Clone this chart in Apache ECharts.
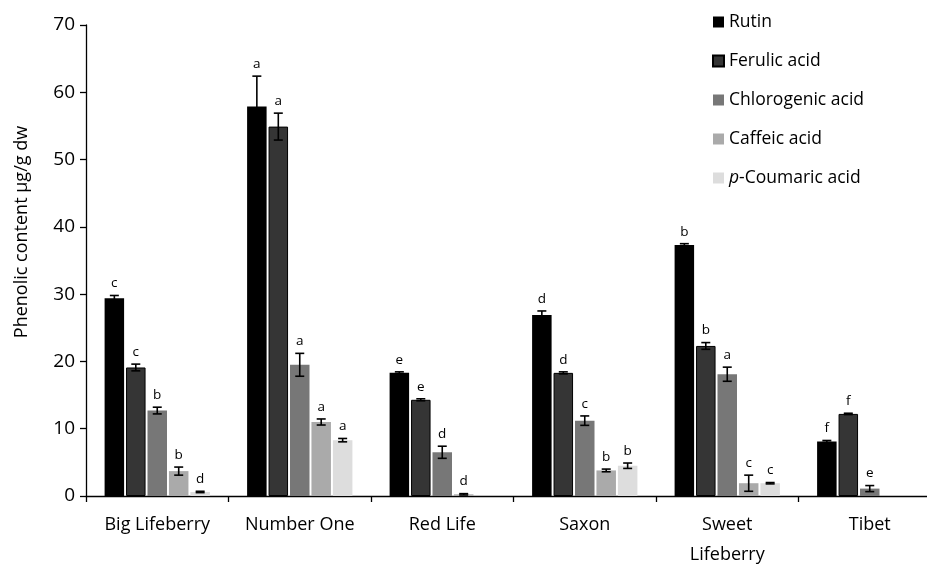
<!DOCTYPE html>
<html>
<head>
<meta charset="utf-8">
<script src="https://cdn.jsdelivr.net/npm/echarts@6/dist/echarts.min.js"></script>
<style>html,body{margin:0;padding:0;background:#fff;}#c{width:927px;height:564px;}</style>
</head>
<body>
<div id="c"></div>
<script>
const categories = ['Big Lifeberry', 'Number One', 'Red Life', 'Saxon', 'Sweet\nLifeberry', 'Tibet'];
const seriesNames = ['Rutin', 'Ferulic acid', 'Chlorogenic acid', 'Caffeic acid', 'p-Coumaric acid'];
const yTicks = [0, 10, 20, 30, 40, 50, 60, 70];

const rutin = [29.4, 57.9, 18.3, 26.9, 37.3, 8.1];
const rutinErr = [0.4, 4.5, 0.15, 0.6, 0.2, 0.15];
const rutinSig = ['c', 'a', 'e', 'd', 'b', 'f'];

const ferulic = [19.1, 54.9, 14.3, 18.3, 22.3, 12.2];
const ferulicErr = [0.5, 2.0, 0.15, 0.15, 0.5, 0.1];
const ferulicSig = ['c', 'a', 'e', 'd', 'b', 'f'];

const chlorogenic = [12.7, 19.5, 6.5, 11.2, 18.1, 1.1];
const chlorogenicErr = [0.5, 1.7, 0.9, 0.7, 1.05, 0.45];
const chlorogenicSig = ['b', 'a', 'd', 'c', 'a', 'e'];

const caffeic = [3.7, 11.0, 0.25, 3.8, 1.9, null];
const caffeicErr = [0.6, 0.45, 0.1, 0.2, 1.2, null];
const caffeicSig = ['b', 'a', 'd', 'b', 'c', ''];

const coumaric = [0.6, 8.3, null, 4.5, 1.9, null];
const coumaricErr = [0.1, 0.25, null, 0.4, 0.1, null];
const coumaricSig = ['d', 'a', '', 'b', 'c', ''];

const values = [rutin, ferulic, chlorogenic, caffeic, coumaric];
const errors = [rutinErr, ferulicErr, chlorogenicErr, caffeicErr, coumaricErr];
const sigs = [rutinSig, ferulicSig, chlorogenicSig, caffeicSig, coumaricSig];
const colors = ['#000000', '#353535', '#777777', '#aaaaaa', '#dddddd'];

const FONT = 'Open Sans';
const BAR_W = 19.5;
const BAR_GAP = 0.1;
const PITCH = BAR_W * (1 + BAR_GAP);

const chart = echarts.init(document.getElementById('c'), null, {renderer: 'canvas'});

const series = [];
seriesNames.forEach((name, i) => {
  series.push({
    name: name,
    type: 'bar',
    data: values[i],
    barWidth: BAR_W,
    barGap: (BAR_GAP * 100) + '%',
    itemStyle: {color: colors[i], borderColor: i < 2 ? '#000' : colors[i], borderWidth: i === 1 ? 1 : 0},
    silent: true
  });
});
seriesNames.forEach((name, i) => {
  const data = values[i].map((v, k) => v == null ? null : [k, v, errors[i][k], sigs[i][k]]).filter(d => d);
  series.push({
    name: name + '_err',
    type: 'custom',
    data: data,
    encode: {x: 0, y: 1},
    z: 5,
    silent: true,
    renderItem: function (params, api) {
      const k = api.value(0), m = api.value(1), e = api.value(2);
      const sig = data[params.dataIndex][3];
      const off = (i - 2) * PITCH;
      const top = api.coord([k, m + e]);
      const bot = api.coord([k, Math.max(m - e, 0)]);
      const x = top[0] + off;
      const hw = 4.5;
      const st = {stroke: '#000', lineWidth: 1.6};
      return {
        type: 'group',
        children: [
          {type: 'line', shape: {x1: x, y1: top[1], x2: x, y2: bot[1]}, style: st},
          {type: 'line', shape: {x1: x - hw, y1: top[1], x2: x + hw, y2: top[1]}, style: st},
          {type: 'line', shape: {x1: x - hw, y1: bot[1], x2: x + hw, y2: bot[1]}, style: st},
          {type: 'text', x: x, y: top[1] - 5, style: {text: sig, fontSize: 13.5, fontFamily: FONT, fill: '#000', align: 'center', verticalAlign: 'bottom'}}
        ]
      };
    }
  });
});

chart.setOption({
  animation: false,
  backgroundColor: '#fff',
  grid: {left: 86, top: 25, width: 855, height: 471, containLabel: false, outerBoundsMode: 'none'},
  legend: {
    data: seriesNames,
    orient: 'vertical',
    left: 707,
    top: 7,
    itemWidth: 11,
    itemHeight: 11,
    itemGap: 19,
    icon: 'rect',
    selectedMode: false,
    textStyle: {fontFamily: FONT, fontSize: 17.5, color: '#000', lineHeight: 20,
      rich: {i: {fontStyle: 'italic', fontFamily: FONT, fontSize: 17.5, color: '#000', lineHeight: 20}}},
    formatter: function (name) {
      return name === 'p-Coumaric acid' ? '{i|p}-Coumaric acid' : name;
    }
  },
  xAxis: {
    type: 'category',
    data: categories,
    axisLine: {lineStyle: {color: '#000', width: 1.3}},
    axisTick: {show: true, length: 6, lineStyle: {color: '#000', width: 1.3}},
    axisLabel: {fontFamily: FONT, fontSize: 18, color: '#000', margin: 14, lineHeight: 30, interval: 0}
  },
  yAxis: {
    type: 'value',
    min: yTicks[0],
    max: yTicks[yTicks.length - 1],
    interval: 10,
    splitLine: {show: false},
    axisLine: {show: true, lineStyle: {color: '#000', width: 1.3}},
    axisTick: {show: true, length: 6, lineStyle: {color: '#000', width: 1.3}},
    axisLabel: {fontFamily: FONT, fontSize: 19, color: '#000', margin: 11}
  },
  graphic: [{
    type: 'text',
    x: 22,
    y: 232,
    rotation: Math.PI / 2,
    style: {text: 'Phenolic content μg/g dw', fontFamily: FONT, fontSize: 18, fill: '#000', align: 'center', verticalAlign: 'middle'}
  }],
  series: series
});
</script>
</body>
</html>
